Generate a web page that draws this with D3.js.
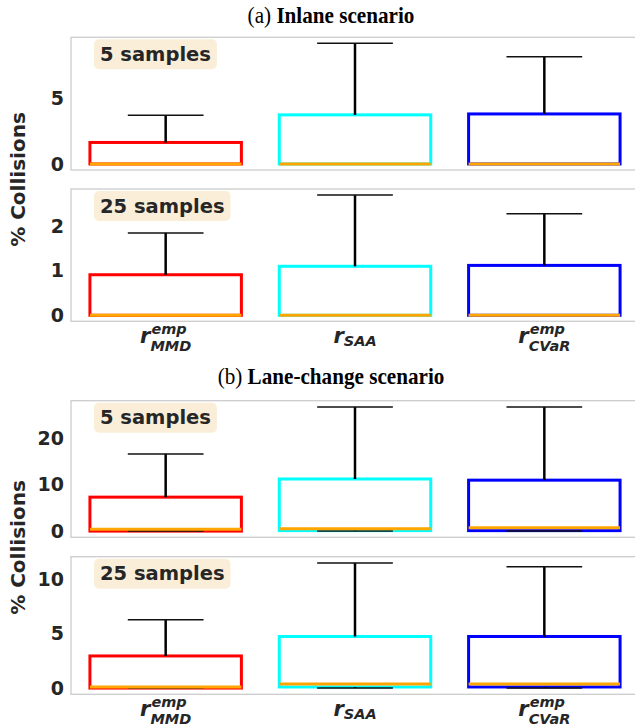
<!DOCTYPE html>
<html>
<head>
<meta charset="utf-8">
<script src="https://cdn.jsdelivr.net/npm/d3@7"></script>
<style>
  body { margin: 0; background: #fff; }
  text { fill: #262626; }
</style>
</head>
<body>
<svg id="chart" width="635" height="727"></svg>
<script>
// methods on the x axis and their box colours
const methods = ['MMD', 'SAA', 'CVaR'];
const boxColors = ['#ff0000', '#00ffff', '#0000ff'];

// box stats per method: [whisker low, q1, median, q3, whisker high], % collisions
const inlane5 = [[0, 0, 0, 1.63, 3.69], [0, 0, 0, 3.72, 9.14], [0, 0, 0, 3.79, 8.13]];
const inlane25 = [[0, 0, 0, 0.91, 1.85], [0, 0, 0, 1.10, 2.70], [0, 0, 0, 1.12, 2.28]];
const lane5 = [[0, 0, 0.4, 7.3, 16.6], [0, 0.1, 0.5, 11.2, 26.7], [0, 0.1, 0.7, 10.95, 26.7]];
const lane25 = [[0, 0, 0.1, 2.95, 6.27], [0, 0.1, 0.38, 4.74, 11.5], [0, 0.1, 0.38, 4.74, 11.14]];

const panelData = [inlane5, inlane25, lane5, lane25];
const tickSets = [[0, 5], [0, 1, 2], [0, 10, 20], [0, 5, 10]];
const sampleLabels = ['5 samples', '25 samples', '5 samples', '25 samples'];
const titles = [['(a) ', 'Inlane scenario'], ['(b) ', 'Lane-change scenario']];
const xLabels = [['r', 'emp', 'MMD'], ['r', '', 'SAA'], ['r', 'emp', 'CVaR']];

// layout
const panelTops = [37.3, 189, 400.7, 556.7];
const panelBottoms = [170, 321.3, 537.3, 694.3];
const titleY = [23, 384];
const yLabelY = [179.5, 547.5];

const svg = d3.select('#chart');

const x = d3.scaleBand()
    .domain(methods)
    .range([71, 639])
    .paddingInner(0.2)
    .paddingOuter(0.1);
const bw = x.bandwidth();
const cx = i => x(methods[i]) + bw / 2;

panelData.forEach((data, p) => {
    const top = panelTops[p];
    const bottom = panelBottoms[p];
    const lo = d3.min(data, d => d[0]);
    const hi = d3.max(data, d => d[4]);
    const m = (hi - lo) * 0.05;
    const y = d3.scaleLinear().domain([lo - m, hi + m]).range([bottom, top]);

    const g = svg.append('g');

    // frame (right edge falls outside the picture)
    g.append('rect')
        .attr('x', 71).attr('y', top)
        .attr('width', 568).attr('height', bottom - top)
        .attr('fill', '#fff')
        .attr('stroke', '#cccccc')
        .attr('stroke-width', 1.3);

    const ax = g.append('g')
        .attr('transform', 'translate(71,0)')
        .call(d3.axisLeft(y).tickValues(tickSets[p]).tickFormat(d3.format('d')).tickSize(0).tickPadding(7));
    ax.select('.domain').remove();
    ax.selectAll('text')
        .attr('font-family', 'DejaVu Sans')
        .attr('font-weight', 'bold')
        .attr('font-size', 19)
        .attr('fill', '#262626');

    const boxes = g.selectAll('g.box')
        .data(data)
        .join('g')
        .attr('class', 'box');

    boxes.append('rect')
        .attr('x', (d, i) => x(methods[i]))
        .attr('width', bw)
        .attr('y', d => y(d[3]))
        .attr('height', d => y(d[1]) - y(d[3]))
        .attr('fill', 'none')
        .attr('stroke', (d, i) => boxColors[i])
        .attr('stroke-width', 3);

    // whiskers
    boxes.append('line')
        .attr('x1', (d, i) => cx(i)).attr('x2', (d, i) => cx(i))
        .attr('y1', d => y(d[3])).attr('y2', d => y(d[4]))
        .attr('stroke', '#000').attr('stroke-width', 2.5);
    boxes.append('line')
        .attr('x1', (d, i) => cx(i)).attr('x2', (d, i) => cx(i))
        .attr('y1', d => y(d[1])).attr('y2', d => y(d[0]))
        .attr('stroke', '#000').attr('stroke-width', 2.5);

    // caps
    [0, 4].forEach(k => {
        boxes.append('line')
            .attr('x1', (d, i) => cx(i) - bw / 4).attr('x2', (d, i) => cx(i) + bw / 4)
            .attr('y1', d => y(d[k])).attr('y2', d => y(d[k]))
            .attr('stroke', '#111').attr('stroke-width', 1.5);
    });

    // medians
    boxes.append('line')
        .attr('x1', (d, i) => x(methods[i])).attr('x2', (d, i) => x(methods[i]) + bw)
        .attr('y1', d => y(d[2])).attr('y2', d => y(d[2]))
        .attr('stroke', '#ffa500').attr('stroke-width', 3);

    // sample count badge
    const badge = g.append('g').attr('transform', `translate(94,${top + 2})`);
    const bg = badge.append('rect')
        .attr('height', 30).attr('rx', 5)
        .attr('fill', '#faeed9');
    const t = badge.append('text')
        .attr('x', 6).attr('y', 15)
        .attr('dominant-baseline', 'central')
        .attr('font-family', 'DejaVu Sans')
        .attr('font-weight', 'bold')
        .attr('font-size', 19.5)
        .text(sampleLabels[p]);
    bg.attr('width', t.node().getComputedTextLength() + 12);

    // method labels under the lower panel of each scenario
    if (p % 2 === 1) {
        xLabels.forEach((lab, i) => {
            const lt = g.append('text')
                .attr('y', bottom + 22)
                .attr('font-family', 'DejaVu Sans')
                .attr('font-weight', 'bold')
                .attr('font-style', 'italic')
                .attr('font-size', 21);
            lt.append('tspan').text(lab[0]);
            let supW = 0;
            if (lab[1]) {
                const sup = lt.append('tspan')
                    .attr('dx', 1).attr('dy', -9.5)
                    .attr('font-size', 14.5)
                    .text(lab[1]);
                supW = sup.node().getComputedTextLength() + 1;
            }
            lt.append('tspan')
                .attr('dx', -supW)
                .attr('dy', lab[1] ? 17.5 : 2.5)
                .attr('font-size', 14.5)
                .text(lab[2]);
            const total = lt.node().getBBox().width;
            lt.attr('x', cx(i) - total / 2);
        });
    }
});

// scenario titles
titles.forEach((tt, k) => {
    const t = svg.append('text')
        .attr('transform', `translate(331,${titleY[k]}) scale(0.92,1)`)
        .attr('text-anchor', 'middle')
        .attr('font-family', 'Liberation Serif')
        .attr('font-size', 23)
        .style('fill', '#000');
    t.append('tspan').text(tt[0]);
    t.append('tspan').attr('font-weight', 'bold').text(tt[1]);
});

// y axis labels
yLabelY.forEach(cy => {
    svg.append('text')
        .attr('transform', `translate(25,${cy}) rotate(-90)`)
        .attr('text-anchor', 'middle')
        .attr('font-family', 'DejaVu Sans')
        .attr('font-weight', 'bold')
        .attr('font-size', 20)
        .text('% Collisions');
});
</script>
</body>
</html>
